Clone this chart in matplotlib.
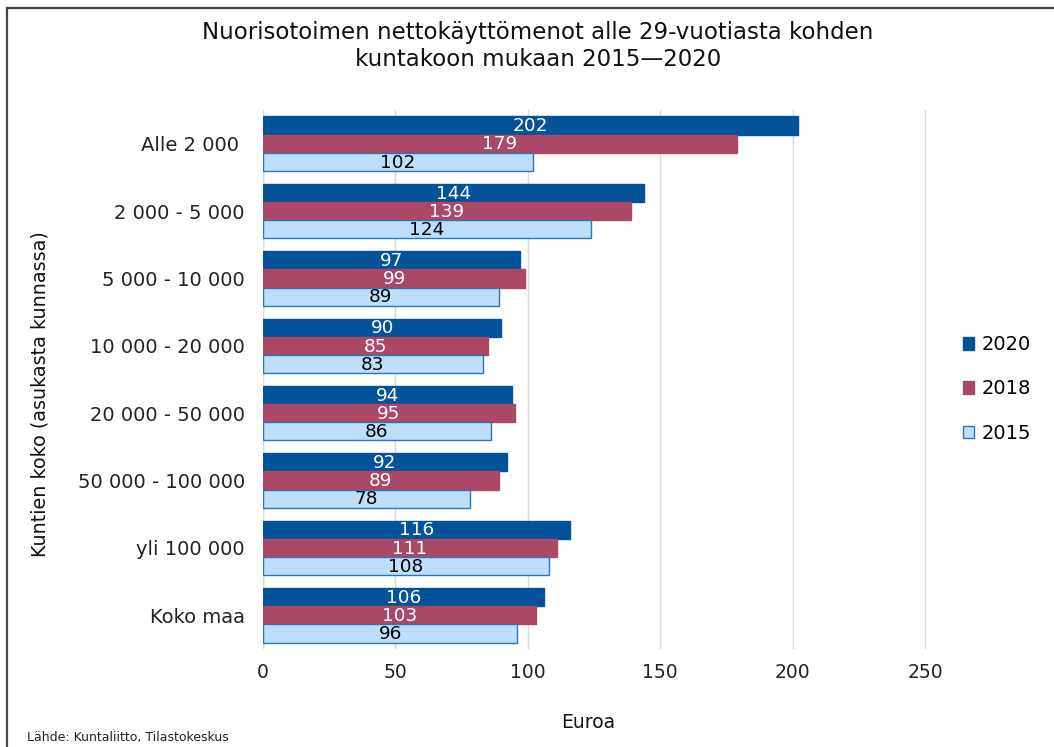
import matplotlib
matplotlib.use("Agg")
import matplotlib.pyplot as plt
from matplotlib.lines import Line2D
from matplotlib.patches import Patch
import numpy as np

categories = ["Alle 2 000 ", "2 000 - 5 000", "5 000 - 10 000", "10 000 - 20 000",
              "20 000 - 50 000", "50 000 - 100 000", "yli 100 000", "Koko maa"]
series_names = ["2020", "2018", "2015"]
v2020 = [202, 144, 97, 90, 94, 92, 116, 106]
v2018 = [179, 139, 99, 85, 95, 89, 111, 103]
v2015 = [102, 124, 89, 83, 86, 78, 108, 96]
x_ticks = [0, 50, 100, 150, 200, 250]

plt.rcParams['font.family'] = ['DejaVu Sans']

fig = plt.figure(figsize=(10.54, 7.47), dpi=100)
ax = fig.add_axes([0.2495, 0.1312, 930.3 / 1054 - 0.2495, 0.8527 - 0.1312])

fills = ["#02539A", "#AA4865", "#BDDFFB"]
edges = ["#02539A", "#AA4865", "#2E75B6"]
txtc = ["white", "white", "black"]
h = 0.27
y = np.arange(len(categories))
offsets = [-h, 0, h]
for vals, off, fc, ec, tc in zip([v2020, v2018, v2015], offsets, fills, edges, txtc):
    bars = ax.barh(y + off, vals, height=h, color=fc, edgecolor=ec, linewidth=1.0, zorder=3)
    for b, v in zip(bars, vals):
        ax.text(b.get_width() / 2, b.get_y() + b.get_height() / 2 + 0.01, str(v),
                ha="center", va="center", color=tc, fontsize=13.3, zorder=4)

ax.set_xlim(0, 252)
ax.set_ylim(len(categories) - 0.5, -0.5)
ax.set_xticks(x_ticks)
ax.set_xticklabels([str(t) for t in x_ticks], fontsize=13.5, color="#222222")
ax.set_yticks(y)
ax.set_yticklabels(categories, fontsize=14, color="#222222")
ax.tick_params(axis="both", length=0)
ax.tick_params(axis="x", pad=10)
ax.tick_params(axis="y", pad=13)
ax.grid(axis="x", color="#D9D9D9", linewidth=1.0, zorder=0)
for s in ax.spines.values():
    s.set_visible(False)
ax.axvline(0, color="#D9D9D9", linewidth=1.0, zorder=0)

fig.text(0.5105, 0.956, "Nuorisotoimen nettokäyttömenot alle 29-vuotiasta kohden",
         ha="center", va="center", fontsize=16.5, color="#111111")
fig.text(0.5105, 0.920, "kuntakoon mukaan 2015\u20142020",
         ha="center", va="center", fontsize=16.5, color="#111111")
fig.text(588 / 1054, 1 - 722 / 747, "Euroa", ha="center", va="center", fontsize=13.5, color="#111111")
fig.text(40 / 1054, 1 - 394 / 747, "Kuntien koko (asukasta kunnassa)", rotation=90,
         ha="center", va="center", fontsize=13.8, color="#111111")
fig.text(27 / 1054, 1 - 738 / 747, "Lähde: Kuntaliitto, Tilastokeskus", ha="left", va="center",
         fontsize=9, color="#222222")

handles = [Patch(facecolor=f, edgecolor=e, linewidth=1.0) for f, e in zip(fills, edges)]
fig.legend(handles, series_names, loc="center left", bbox_to_anchor=(945 / 1054, 1 - 389 / 747),
           frameon=False, fontsize=14, handlelength=0.6, handleheight=0.6,
           handletextpad=0.4, labelspacing=1.3)

fig.add_artist(Line2D([7 / 1054, 7 / 1054], [0, 1 - 8 / 747], color="#444444", linewidth=1.6))
fig.add_artist(Line2D([7 / 1054, 1], [1 - 8 / 747, 1 - 8 / 747], color="#444444", linewidth=1.6))

fig.savefig("out.png", dpi=100)
